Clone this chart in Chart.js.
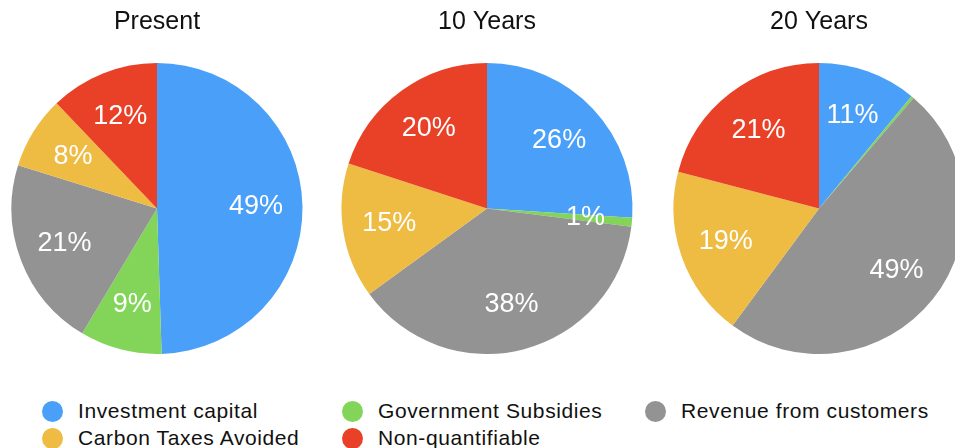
<!DOCTYPE html>
<html>
<head>
<meta charset="utf-8">
<script src="https://cdn.jsdelivr.net/npm/chart.js@4/dist/chart.umd.min.js"></script>
<style>
  html, body { margin: 0; padding: 0; background: #fff; }
  body { width: 955px; height: 448px; overflow: hidden; position: relative; font-family: "Liberation Sans", Arial, sans-serif; }
  .pie-box { position: absolute; top: 0; width: 300px; height: 354px; }
  .legend-item { position: absolute; height: 22px; display: flex; align-items: center; font-size: 21px; letter-spacing: 0.6px; color: #111; white-space: nowrap; }
  .legend-dot { width: 21px; height: 21px; border-radius: 50%; margin-right: 15px; flex: none; }
</style>
</head>
<body>
  <div class="pie-box" style="left: 7px;"><canvas id="presentChart"></canvas></div>
  <div class="pie-box" style="left: 337px;"><canvas id="tenYearsChart"></canvas></div>
  <div class="pie-box" style="left: 669px;"><canvas id="twentyYearsChart"></canvas></div>
  <div id="legend"></div>

<script>
// categories, in slice order (clockwise from 12 o'clock)
const categories = ['Investment capital', 'Government Subsidies', 'Revenue from customers', 'Carbon Taxes Avoided', 'Non-quantifiable'];
const colors = ['#4a9ff8', '#83d55a', '#939393', '#eebb43', '#e94127'];

const chartTitles = ['Present', '10 Years', '20 Years'];

// share of funding, percent
const presentValues = [49, 9, 21, 8, 12];
const tenYearValues = [26, 1, 38, 15, 20];
const twentyYearValues = [11, 0.3, 49, 19, 21];

// legend placement: order in which items appear, row by row
const legendOrder = [0, 1, 2, 3, 4];

// white percent labels inside each slice
const sliceLabels = {
  id: 'sliceLabels',
  afterDatasetsDraw(chart) {
    const ctx = chart.ctx;
    const values = chart.data.datasets[0].data;
    const arcs = chart.getDatasetMeta(0).data;
    ctx.save();
    ctx.fillStyle = '#ffffff';
    ctx.font = '27px "Liberation Sans", Arial, sans-serif';
    ctx.textAlign = 'center';
    ctx.textBaseline = 'middle';
    arcs.forEach((arc, i) => {
      if (values[i] < 0.5) return;
      const p = arc.getProps(['x', 'y', 'startAngle', 'endAngle', 'outerRadius'], true);
      const mid = (p.startAngle + p.endAngle) / 2;
      const r = p.outerRadius * 0.68;
      ctx.fillText(Math.round(values[i]) + '%', p.x + Math.cos(mid) * r, p.y + Math.sin(mid) * r);
    });
    ctx.restore();
  }
};

const makePie = (canvasId, title, values) => {
  const ctx = document.getElementById(canvasId).getContext('2d');
  return new Chart(ctx, {
    type: 'pie',
    data: {
      labels: categories,
      datasets: [{
        data: values,
        backgroundColor: colors,
        borderWidth: 0
      }]
    },
    options: {
      responsive: true,
      maintainAspectRatio: false,
      animation: false,
      layout: { padding: 0 },
      plugins: {
        legend: { display: false },
        tooltip: { enabled: false },
        title: {
          display: true,
          text: title,
          color: '#111',
          font: { family: '"Liberation Sans", Arial, sans-serif', size: 25, weight: 'normal' },
          padding: { top: 7, bottom: 26 }
        }
      }
    },
    plugins: [sliceLabels]
  });
};

makePie('presentChart', chartTitles[0], presentValues);
makePie('tenYearsChart', chartTitles[1], tenYearValues);
makePie('twentyYearsChart', chartTitles[2], twentyYearValues);

// legend: three columns, two rows
const legendCols = [42, 342, 645];
const legendRows = [400, 427];
const legend = document.getElementById('legend');
legendOrder.forEach((idx, n) => {
  const item = document.createElement('div');
  item.className = 'legend-item';
  item.style.left = legendCols[n % 3] + 'px';
  item.style.top = legendRows[Math.floor(n / 3)] + 'px';
  const dot = document.createElement('span');
  dot.className = 'legend-dot';
  dot.style.background = colors[idx];
  const label = document.createElement('span');
  label.textContent = categories[idx];
  item.appendChild(dot);
  item.appendChild(label);
  legend.appendChild(item);
});
</script>
</body>
</html>
